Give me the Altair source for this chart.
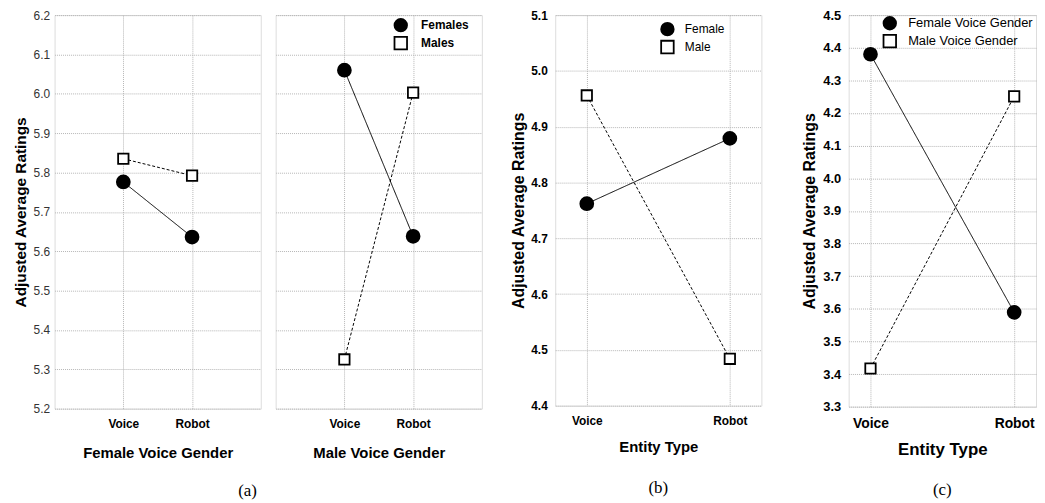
import altair as alt
import pandas as pd

categories = ["Voice", "Robot"]

a_series = ["Females", "Males"]
a1_females = [5.776, 5.636]
a1_males = [5.835, 5.792]
a2_females = [6.060, 5.638]
a2_males = [5.325, 6.003]

b_series = ["Female", "Male"]
b_female = [4.762, 4.879]
b_male = [4.956, 4.484]

c_series = ["Female Voice Gender", "Male Voice Gender"]
c_female = [4.380, 3.589]
c_male = [3.417, 4.251]

line_styles = ["solid", "dashed"]

a_ticks = [5.2, 5.3, 5.4, 5.5, 5.6, 5.7, 5.8, 5.9, 6.0, 6.1, 6.2]
b_ticks = [4.4, 4.5, 4.6, 4.7, 4.8, 4.9, 5.0, 5.1]
c_ticks = [3.3, 3.4, 3.5, 3.6, 3.7, 3.8, 3.9, 4.0, 4.1, 4.2, 4.3, 4.4, 4.5]

x_titles = ["Female Voice Gender", "Male Voice Gender", "Entity Type", "Entity Type"]
y_title = "Adjusted Average Ratings"
captions = ["(a)", "(b)", "(c)"]

SANS = "Liberation Sans"
SERIF = "Liberation Serif"
GRID = dict(grid=True, gridDash=[1, 1], gridColor="#b5b5b5", gridWidth=1)


def frame(series, first, second):
    rows = []
    for name, style, vals in zip(series, line_styles, [first, second]):
        for cat, v in zip(categories, vals):
            rows.append({"cond": cat, "rating": v, "series": name, "style": style})
    return pd.DataFrame(rows)


def panel(df, series, width, height, xpad, ydomain, yticks, xaxis, yaxis, legend):
    x = alt.X("cond:N", sort=categories,
              scale=alt.Scale(type="point", padding=xpad, domain=categories),
              axis=alt.Axis(labelAngle=0, ticks=False, tickSize=0, domain=False, labelColor="black",
                            labelFont=SANS, labelFontWeight="bold", titleFont=SANS,
                            titleFontWeight="bold", titleColor="black", **GRID, **xaxis))
    y = alt.Y("rating:Q", scale=alt.Scale(domain=ydomain, nice=False, zero=False),
              axis=alt.Axis(values=yticks, format=".1f", ticks=False, tickSize=0, domain=False,
                            labelFont=SANS, titleFont=SANS, titleFontWeight="bold",
                            titleColor="black", **GRID, **yaxis))
    base = alt.Chart(df).encode(x=x, y=y)
    lines = base.mark_line(color="black", strokeWidth=1).encode(
        strokeDash=alt.StrokeDash("style:N", scale=alt.Scale(domain=line_styles, range=[[1, 0], [3, 2]]),
                                  legend=None),
        detail="series:N",
    )
    if legend is None:
        leg = None
    else:
        leg = alt.Legend(title=None, orient="none", padding=0, symbolStrokeColor="black",
                         symbolStrokeWidth=1.8, symbolSize=160, labelFont=SANS,
                         labelColor="black", **legend)
    points = base.mark_point(filled=True, strokeWidth=1.8, opacity=1).encode(
        shape=alt.Shape("series:N", scale=alt.Scale(domain=series, range=["circle", "square"]),
                        legend=leg),
        fill=alt.Fill("series:N", scale=alt.Scale(domain=series, range=["black", "white"]),
                      legend=leg),
        stroke=alt.Stroke("series:N", scale=alt.Scale(domain=series, range=["black", "black"]),
                          legend=leg),
        size=alt.Size("style:N", scale=alt.Scale(type="ordinal", domain=line_styles, range=[170, 110]),
                      legend=None),
    )
    return alt.layer(lines, points).properties(width=width, height=height)


def caption(text, offset):
    return alt.TitleParams(text, orient="bottom", anchor="middle", font=SERIF, fontSize=17,
                           fontWeight="normal", color="black", offset=offset)


a_x = dict(labelFontSize=12, labelPadding=10, titleFontSize=15, titlePadding=16)
a1 = panel(frame(a_series, a1_females, a1_males), a_series, 208, 397, 1, [5.2, 6.2], a_ticks,
           dict(title=x_titles[0], **a_x),
           dict(title=y_title, labelFontSize=12, labelColor="#333", labelPadding=5,
                titleFontSize=15.5, titlePadding=5),
           None)
a2 = panel(frame(a_series, a2_females, a2_males), a_series, 208, 397, 1, [5.2, 6.2], a_ticks,
           dict(title=x_titles[1], **a_x),
           dict(title=None, labels=False),
           dict(legendX=118.7, legendY=2.7, labelFontSize=12, labelFontWeight="bold",
                rowPadding=-5, labelOffset=13))

b = panel(frame(b_series, b_female, b_male), b_series, 208, 394, 0.2207, [4.4, 5.1], b_ticks,
          dict(title=x_titles[2], labelFontSize=12, labelPadding=10, titleFontSize=15, titlePadding=13),
          dict(title=y_title, labelFontSize=12, labelFontWeight="bold", labelColor="black",
               labelPadding=8, titleFontSize=16, titlePadding=4),
          dict(legendX=105.7, legendY=6.7, labelFontSize=12, labelFontWeight="normal",
               rowPadding=-7, labelOffset=10))

c = panel(frame(c_series, c_female, c_male), c_series, 189, 395, 0.152, [3.3, 4.5], c_ticks,
          dict(title=x_titles[3], labelFontSize=14, labelPadding=10, titleFontSize=17, titlePadding=11),
          dict(title=y_title, labelFontSize=13, labelFontWeight="bold", labelColor="black",
               labelPadding=8, titleFontSize=16, titlePadding=5),
          dict(legendX=34, legendY=0.7, labelFontSize=13, labelFontWeight="normal",
               rowPadding=-10, labelOffset=11))

res = dict(x="independent", y="independent", shape="independent", fill="independent",
           stroke="independent", size="independent", strokeDash="independent")
leg_res = dict(shape="independent", fill="independent", stroke="independent")

a_group = alt.hconcat(a1, a2, spacing=13, title=caption(captions[0], 23)).resolve_scale(**res).resolve_legend(**leg_res)

bc_group = alt.hconcat(
    b.properties(title=caption(captions[1], 26)),
    c.properties(title=caption(captions[2], 25)),
    spacing=39,
).resolve_scale(**res).resolve_legend(**leg_res)

chart = alt.hconcat(a_group, bc_group, spacing=27).resolve_scale(**res).resolve_legend(**leg_res).properties(
    padding={"left": 4, "top": -2, "right": 0, "bottom": 0}
).configure_view(stroke="#111", strokeWidth=1.2).configure(background="white")

chart.save("out.html", embed_options={"renderer": "svg", "actions": False})
